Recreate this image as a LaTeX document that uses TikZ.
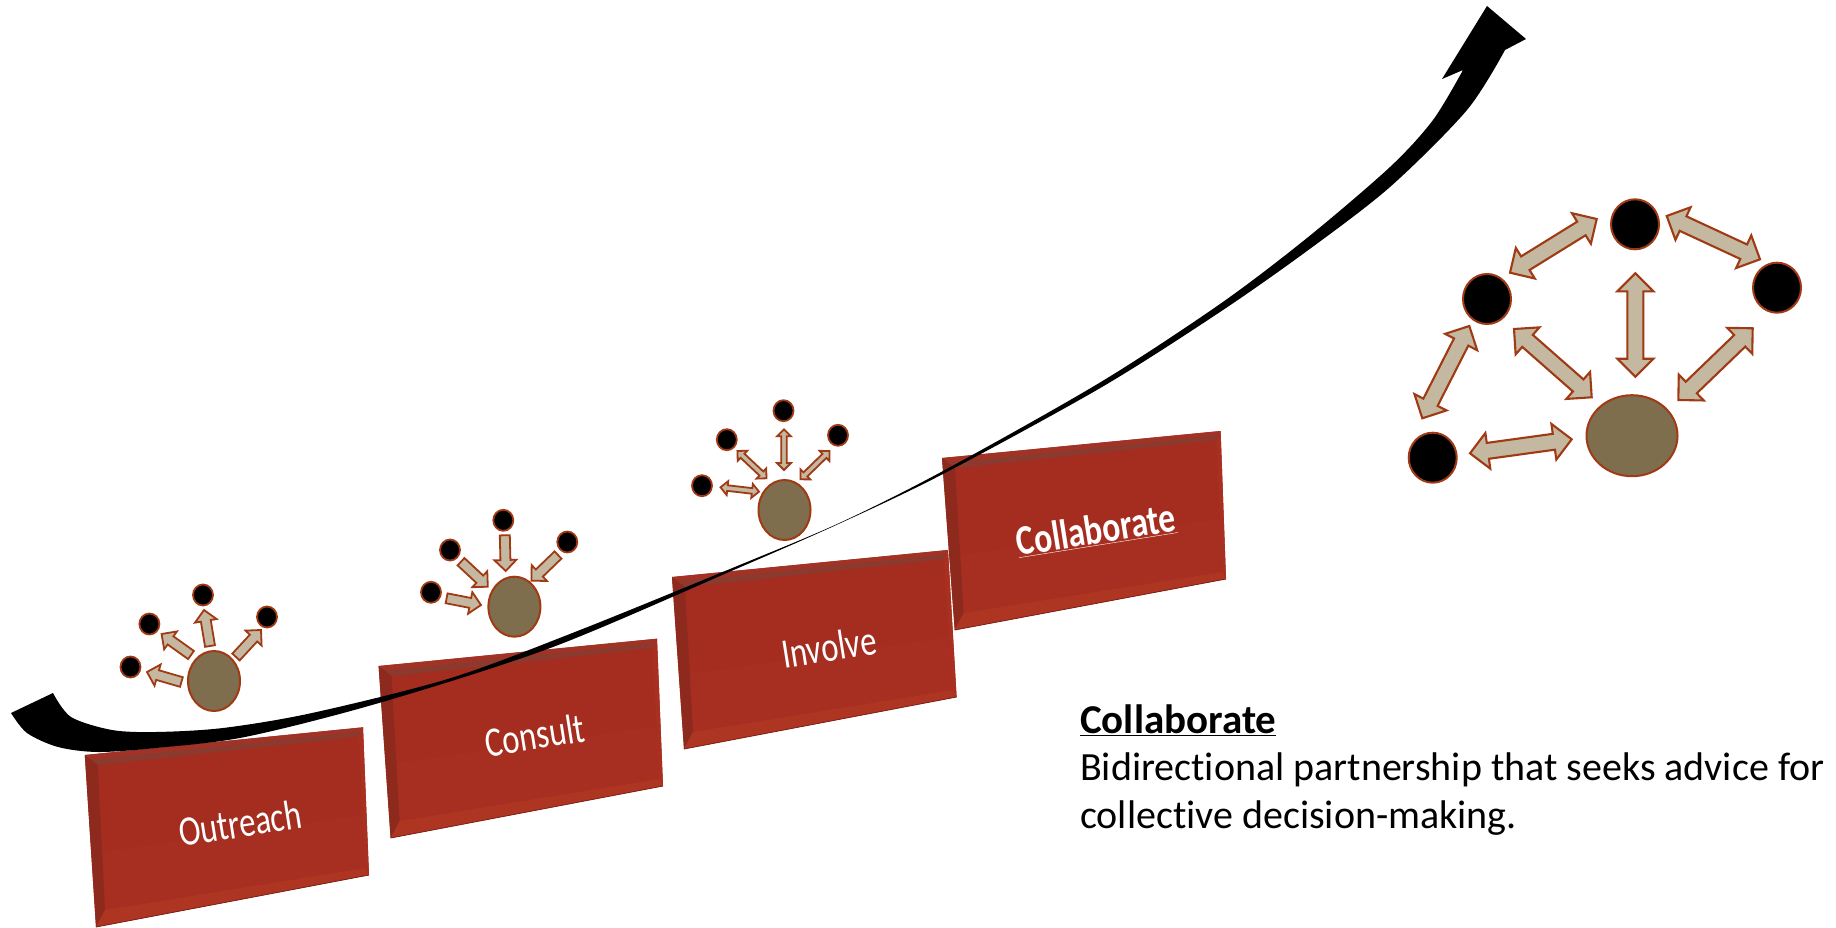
\documentclass[tikz,border=0pt]{standalone}
\usepackage{fontspec}
\usepackage{graphicx}
\setmainfont[Ligatures=NoCommon]{Carlito}
\usetikzlibrary{calc,shapes.geometric}
\definecolor{rust}{HTML}{A03A14}
\definecolor{tanfill}{HTML}{C5B8A0}
\definecolor{hubfill}{HTML}{7F6E4D}
\definecolor{brick}{HTML}{A42D20}
\definecolor{brickB}{HTML}{A72F21}
\definecolor{bandA}{HTML}{A03326}
\definecolor{bandB}{HTML}{8A3A2E}
\definecolor{bandL}{HTML}{8E2A1D}
\definecolor{bandR}{HTML}{A93021}
\definecolor{bandD}{HTML}{AF3523}
\definecolor{edgeD}{HTML}{7A2216}
\tikzset{
  blockarrow/.style={draw=rust,fill=tanfill,line join=miter,miter limit=8},
  thick arrow line/.style={line width=2.1pt},
  thin arrow line/.style={line width=1.8pt},
  hub/.style={ellipse,draw=rust,fill=hubfill,line width=2pt,inner sep=0pt},
  hubsm/.style={hub,minimum width=52pt,minimum height=60pt},
  hublg/.style={hub,minimum width=91pt,minimum height=81pt},
  dotsm/.style={ellipse,draw=rust,fill=black,line width=1.8pt,inner sep=0pt,minimum width=20pt,minimum height=21pt},
  dotlg/.style={ellipse,draw=rust,fill=black,line width=2pt,inner sep=0pt,minimum width=48pt,minimum height=50pt},
  boxlabel/.style={text=white,font=\fontsize{42}{48}\selectfont,inner sep=0pt,rotate=9},
  bodytext/.style={text=black,font=\fontsize{40}{48}\selectfont,anchor=base west,inner sep=0pt}
}
% one-way block arrow from #1 to #2; shaft half-width #3, head half-width #4, head length #5
\newcommand\blockone[6]{\draw[blockarrow,#6]
  ($(#1)!#3!90:(#2)$) -- ($(#2)!#5!(#1)!#3!-90:(#1)$) -- ($(#2)!#5!(#1)!#4!-90:(#1)$) -- (#2)
  -- ($(#2)!#5!(#1)!#4!90:(#1)$) -- ($(#2)!#5!(#1)!#3!90:(#1)$) -- ($(#1)!#3!-90:(#2)$) -- cycle;}
% two-way block arrow
\newcommand\blocktwo[6]{\draw[blockarrow,#6]
  (#1) -- ($(#1)!#5!(#2)!#4!90:(#2)$) -- ($(#1)!#5!(#2)!#3!90:(#2)$)
  -- ($(#2)!#5!(#1)!#3!-90:(#1)$) -- ($(#2)!#5!(#1)!#4!-90:(#1)$) -- (#2)
  -- ($(#2)!#5!(#1)!#4!90:(#1)$) -- ($(#2)!#5!(#1)!#3!90:(#1)$)
  -- ($(#1)!#5!(#2)!#3!-90:(#2)$) -- ($(#1)!#5!(#2)!#4!-90:(#2)$) -- cycle;}
% bevelled brick: #1 name, #2 TL, #3 TR, #4 BR, #5 BL
\newcommand\brickbox[5]{%
  \coordinate (#1tl) at (#2); \coordinate (#1tr) at (#3);
  \coordinate (#1br) at (#4); \coordinate (#1bl) at (#5);
  \coordinate (#1itl) at ($(#1tl)+(13,10)$); \coordinate (#1itr) at ($(#1tr)+(-4,9)$);
  \coordinate (#1ibr) at ($(#1br)+(-4,-7)$); \coordinate (#1ibl) at ($(#1bl)+(9,-17)$);
  \fill[brick] (#1tl) -- (#1tr) -- (#1br) -- (#1bl) -- cycle;
  \fill[brickB] ($(#1itl)!.6!(#1ibl)$) -- ($(#1itr)!.6!(#1ibr)$) -- (#1ibr) -- (#1ibl) -- cycle;
  \fill[bandA] (#1tl) -- (#1tr) -- (#1itr) -- (#1itl) -- cycle;
  \fill[bandB] ($(#1tl)!.5!(#1itl)$) -- ($(#1tr)!.5!(#1itr)$) -- (#1itr) -- (#1itl) -- cycle;
  \fill[bandL] (#1tl) -- (#1itl) -- (#1ibl) -- (#1bl) -- cycle;
  \fill[bandR] (#1tr) -- (#1br) -- (#1ibr) -- (#1itr) -- cycle;
  \fill[bandD] (#1bl) -- (#1ibl) -- (#1ibr) -- (#1br) -- cycle;
  \draw[edgeD,line width=.8pt] (#1bl) -- (#1br);
}
\begin{document}
\begin{tikzpicture}[x=1pt,y=-1pt]
\useasboundingbox (0,0) rectangle (1836,928);
% bricks
\brickbox{ob}{84.8,755}{363,727.3}{369,875}{96,927}
\brickbox{cb}{378.6,666}{657,638.7}{663,786}{390.6,838}
\brickbox{ib}{672,577}{948,550}{956.6,697}{684,749}
\brickbox{lb}{942,458}{1220.6,431}{1226,579}{954.7,630}
\node[boxlabel] (outreach) at (240,823) {\scalebox{.78}[1]{Outreach}};
\node[boxlabel] (consult) at (535,735) {\scalebox{.78}[1]{Consult}};
\node[boxlabel] (involve) at (829,647) {\scalebox{.78}[1]{Involve}};
\node[boxlabel] (collab) at (1096,530) {\scalebox{.8}[1]{\textbf{\underline{Collaborate}}}};
% rising curve
\fill[black] plot[smooth] coordinates {(53,693) (71,717) (112,730) (156,732) (223,728) (312,713) (451,678) (580,630) (736,566.5) (840,522.7) (943,471) (1100,382.5) (1220,304) (1307,238) (1390,167) (1433,120) (1463,70)}
  -- (1442,79) -- (1487,6) -- (1526,39) --
  plot[smooth] coordinates {(1505,50) (1467,110) (1390,187) (1307,251) (1220,312) (1102,387) (943,474) (840,523.3) (736,569) (553,647) (379,703) (245,737) (156,748) (98,752) (58,747) (27,733) (11,713)} -- cycle;
% Outreach group
\node[hubsm] (oh) at (214,681) {};
\node[dotsm] (od1) at (130.5,667) {};
\node[dotsm] (od2) at (149.4,624) {};
\node[dotsm] (od3) at (203,595) {};
\node[dotsm] (od4) at (267,617) {};
\coordinate (oa1s) at (181.4,682); \coordinate (oa1e) at (147,672);
\coordinate (oa2s) at (191,655);   \coordinate (oa2e) at (161.6,634);
\coordinate (oa3s) at (210,646);   \coordinate (oa3e) at (204,610);
\coordinate (oa4s) at (236,657);   \coordinate (oa4e) at (261,630);
\blockone{oa1s}{oa1e}{5pt}{11pt}{11pt}{thin arrow line}
\blockone{oa2s}{oa2e}{5pt}{11pt}{11pt}{thin arrow line}
\blockone{oa3s}{oa3e}{5pt}{11pt}{11pt}{thin arrow line}
\blockone{oa4s}{oa4e}{5pt}{11pt}{11pt}{thin arrow line}
% Consult group
\node[hubsm] (ch) at (514.4,606.7) {};
\node[dotsm] (cd1) at (431,592.3) {};
\node[dotsm] (cd2) at (450,550) {};
\node[dotsm] (cd3) at (503.3,520.3) {};
\node[dotsm] (cd4) at (567.3,542) {};
\coordinate (ca1s) at (446.6,598.3); \coordinate (ca1e) at (481,605);
\coordinate (ca2s) at (461,561.7);   \coordinate (ca2e) at (487.8,586.7);
\coordinate (ca3s) at (504.8,535.3); \coordinate (ca3e) at (505.7,571);
\coordinate (ca4s) at (558,555);     \coordinate (ca4e) at (531.4,580.7);
\blockone{ca1s}{ca1e}{5pt}{11pt}{11pt}{thin arrow line}
\blockone{ca2s}{ca2e}{5pt}{11pt}{11pt}{thin arrow line}
\blockone{ca3s}{ca3e}{5pt}{11pt}{11pt}{thin arrow line}
\blockone{ca4s}{ca4e}{5pt}{11pt}{11pt}{thin arrow line}
% Involve group
\node[hubsm] (ih) at (784.5,510) {};
\node[dotsm] (id1) at (702,485.7) {};
\node[dotsm] (id2) at (726.8,439.7) {};
\node[dotsm] (id3) at (783.5,410.7) {};
\node[dotsm] (id4) at (838,435.3) {};
\coordinate (ia1s) at (720.5,487.3); \coordinate (ia1e) at (759,491.7);
\coordinate (ia2s) at (737.4,451);   \coordinate (ia2e) at (766.5,478.3);
\coordinate (ia3s) at (784,429.3);   \coordinate (ia3e) at (784,470);
\coordinate (ia4s) at (829.5,451);   \coordinate (ia4e) at (800.4,479.3);
\blocktwo{ia1s}{ia1e}{2.8pt}{7pt}{7pt}{thin arrow line}
\blocktwo{ia2s}{ia2e}{2.8pt}{7pt}{7pt}{thin arrow line}
\blocktwo{ia3s}{ia3e}{2.8pt}{7pt}{7pt}{thin arrow line}
\blocktwo{ia4s}{ia4e}{2.8pt}{7pt}{7pt}{thin arrow line}
% Collaborate network
\node[hublg] (nh) at (1632,435.7) {};
\node[dotlg] (nt) at (1635,224.3) {};
\node[dotlg] (nl) at (1487,299) {};
\node[dotlg] (nr) at (1777,287.7) {};
\node[dotlg] (nb) at (1432.7,457.7) {};
\coordinate (n1s) at (1510,272.7);   \coordinate (n1e) at (1596.7,219);
\coordinate (n2s) at (1666.7,216);   \coordinate (n2e) at (1760,259.3);
\coordinate (n3s) at (1635.3,273.3); \coordinate (n3e) at (1635.3,376.7);
\coordinate (n4s) at (1514,329);     \coordinate (n4e) at (1591.7,397.3);
\coordinate (n5s) at (1752.7,328.3); \coordinate (n5e) at (1678.3,400);
\coordinate (n6s) at (1469.3,326);   \coordinate (n6e) at (1422.3,418.3);
\coordinate (n7s) at (1470,453.3);   \coordinate (n7e) at (1571.7,439.3);
\blocktwo{n1s}{n1e}{8pt}{18pt}{18pt}{thick arrow line}
\blocktwo{n2s}{n2e}{8pt}{18pt}{18pt}{thick arrow line}
\blocktwo{n3s}{n3e}{8pt}{18pt}{18pt}{thick arrow line}
\blocktwo{n4s}{n4e}{8pt}{18pt}{18pt}{thick arrow line}
\blocktwo{n5s}{n5e}{8pt}{18pt}{18pt}{thick arrow line}
\blocktwo{n6s}{n6e}{8pt}{18pt}{18pt}{thick arrow line}
\blocktwo{n7s}{n7e}{8pt}{18pt}{18pt}{thick arrow line}
% caption
\node[bodytext,font=\fontsize{41}{48}\selectfont] (captitle) at (1080,733) {\textbf{\underline{Collaborate}}};
\node[bodytext] (capline1) at (1080,780) {Bidirectional partnership that seeks advice for};
\node[bodytext] (capline2) at (1080,828) {collective decision-making.};
\end{tikzpicture}
\end{document}
